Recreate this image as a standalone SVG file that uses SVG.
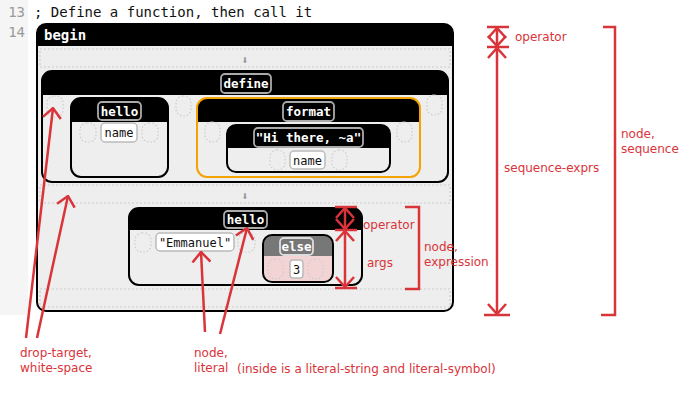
<svg xmlns="http://www.w3.org/2000/svg" width="700" height="400" viewBox="0 0 700 400">
<style>
.mono{font-family:"DejaVu Sans Mono","Liberation Mono",monospace}
.hdr{font-family:"DejaVu Sans Mono","Liberation Mono",monospace;font-weight:bold;fill:#fff;font-size:12.5px;text-anchor:middle}
.val{font-family:"DejaVu Sans Mono","Liberation Mono",monospace;fill:#111;font-size:12px;text-anchor:middle}
.out{fill:none;stroke:#000;stroke-width:2}
.body{fill:#eee}
.lbl{fill:#000;stroke:#aaa;stroke-width:1.8}
.vbox{fill:#fff;stroke:#bbb;stroke-width:1.5}
.drop{fill:none;stroke:#ccc;stroke-width:1.2;stroke-dasharray:1.5 2}
.dropr{fill:none;stroke:#ccc;stroke-width:1.2;stroke-dasharray:2 2}
.ann{font-family:"DejaVu Sans","Liberation Sans",sans-serif;font-size:12px;fill:#d9343a}
.red{fill:none;stroke:#d9343a;stroke-width:2.5}
.arr{fill:none;stroke:#d9343a;stroke-width:2.5;marker-end:url(#v)}
.arr2{fill:none;stroke:#d9343a;stroke-width:2.5;marker-end:url(#v);marker-start:url(#v)}
.down{font-family:"DejaVu Sans",sans-serif;font-size:8px;fill:#999;text-anchor:middle}
</style>
<defs>
<marker id="v" viewBox="0 0 12 20" refX="11" refY="10" markerWidth="12" markerHeight="20" markerUnits="userSpaceOnUse" orient="auto-start-reverse">
<path d="M1,1 L11,10 L1,19" fill="none" stroke="#d9343a" stroke-width="2.5"/>
</marker>
</defs>
<rect x="0" y="0" width="700" height="400" fill="#fff"/>
<g id="editor">
<rect x="0" y="0" width="28" height="315" fill="#f5f5f5"/>
<text class="mono" x="25" y="17" font-size="14" fill="#999" text-anchor="end">13</text>
<text class="mono" x="25" y="37" font-size="14" fill="#999" text-anchor="end">14</text>
<text class="mono" x="34" y="17" font-size="14" fill="#111">; Define a function, then call it</text>
</g>
<g id="node-begin">
<rect x="37" y="24" width="416" height="287" rx="9" fill="#000"/>
<path class="body" d="M37,46 H453 V302 Q453,311 444,311 H46 Q37,311 37,302 Z"/>
<rect class="out" x="37" y="24" width="416" height="287" rx="9"/>
<text class="mono" x="44" y="40" font-size="14" font-weight="bold" fill="#fff">begin</text>
<rect class="dropr" x="40" y="49" width="410" height="18"/>
<text class="down" x="245" y="63">⬇</text>
<rect class="dropr" x="40" y="185" width="410" height="18"/>
<text class="down" x="245" y="199">⬇</text>
<rect class="dropr" x="40" y="289" width="410" height="18"/>
</g>
<g id="node-define">
<rect x="42" y="71" width="406" height="111" rx="10" fill="#000"/>
<path class="body" d="M42,95 H448 V172 Q448,182 438,182 H52 Q42,182 42,172 Z"/>
<rect class="out" x="42" y="71" width="406" height="111" rx="10"/>
<rect class="lbl" x="221" y="74" width="50" height="19" rx="4"/>
<text class="hdr" x="246" y="88">define</text>
<rect class="drop" x="47" y="96" width="16" height="21" rx="7"/>
<rect class="drop" x="176" y="96" width="15" height="20" rx="7"/>
<rect class="drop" x="427" y="95" width="15" height="20" rx="7"/>
</g>
<g id="node-hello-def">
<rect x="71" y="98" width="97" height="79" rx="10" fill="#000"/>
<path class="body" d="M71,122 H168 V167 Q168,177 158,177 H81 Q71,177 71,167 Z"/>
<rect class="out" x="71" y="98" width="97" height="79" rx="10"/>
<rect class="lbl" x="98" y="102" width="43" height="18" rx="4"/>
<text class="hdr" x="119.5" y="115.5">hello</text>
<rect class="drop" x="80" y="123" width="16" height="19" rx="7"/>
<rect class="vbox" x="101" y="123" width="36" height="19" rx="4"/>
<text class="val" x="119" y="137">name</text>
<rect class="drop" x="142" y="123" width="16" height="19" rx="7"/>
</g>
<g id="node-format">
<rect x="197" y="98" width="223" height="79" rx="10" fill="#000"/>
<path class="body" d="M197,122 H420 V167 Q420,177 410,177 H207 Q197,177 197,167 Z"/>
<rect x="197" y="98" width="223" height="79" rx="10" fill="none" stroke="#f5a300" stroke-width="2"/>
<rect class="lbl" x="283" y="102" width="51" height="19" rx="4"/>
<text class="hdr" x="308.5" y="116">format</text>
<rect class="drop" x="205" y="122" width="15" height="20" rx="7"/>
<rect class="drop" x="397" y="122" width="15" height="20" rx="7"/>
</g>
<g id="node-string">
<rect x="227" y="125" width="163" height="47" rx="9" fill="#000"/>
<path class="body" d="M227,148 H390 V163 Q390,172 381,172 H236 Q227,172 227,163 Z"/>
<rect class="out" x="227" y="125" width="163" height="47" rx="9"/>
<rect class="lbl" x="254" y="128" width="109" height="19" rx="4"/>
<text class="hdr" x="308.5" y="142">"Hi there, ~a"</text>
<rect class="drop" x="270" y="150" width="15" height="20" rx="7"/>
<rect class="vbox" x="290" y="151" width="35" height="18" rx="4"/>
<text class="val" x="307.5" y="164.5">name</text>
<rect class="drop" x="332" y="150" width="15" height="20" rx="7"/>
</g>
<g id="node-hello-call">
<rect x="129" y="208" width="233" height="77" rx="10" fill="#000"/>
<path class="body" d="M129,230 H362 V275 Q362,285 352,285 H139 Q129,285 129,275 Z"/>
<rect class="out" x="129" y="208" width="233" height="77" rx="10"/>
<rect class="lbl" x="224" y="211" width="43" height="17" rx="4"/>
<text class="hdr" x="245.5" y="224">hello</text>
<rect class="drop" x="135" y="233" width="16" height="19" rx="7"/>
<rect class="vbox" x="156" y="233" width="78" height="18" rx="4"/>
<text class="val" x="195" y="247">"Emmanuel"</text>
<rect class="drop" x="238" y="233" width="17" height="19" rx="7"/>
</g>
<g id="node-else">
<rect x="263" y="235" width="70" height="47" rx="9" fill="#777"/>
<path d="M263,256 H333 V273 Q333,282 324,282 H272 Q263,282 263,273 Z" fill="#f2d4d4"/>
<rect class="out" x="263" y="235" width="70" height="47" rx="9"/>
<rect x="280" y="238" width="33" height="17" rx="4" fill="#777" stroke="#ddd" stroke-width="1.8"/>
<text class="hdr" x="296.5" y="251">else</text>
<rect class="drop" x="268" y="259" width="15" height="20" rx="7"/>
<rect class="vbox" x="290" y="260" width="13" height="18" rx="3"/>
<text class="val" x="296.5" y="274">3</text>
<rect class="drop" x="308" y="259" width="15" height="20" rx="7"/>
</g>
<g id="connectors">
<line class="red" x1="487" y1="27" x2="509" y2="27"/>
<line class="red" x1="487" y1="47" x2="509" y2="47"/>
<line class="red" x1="484" y1="315" x2="510" y2="315"/>
<line class="arr2" x1="497" y1="28" x2="497" y2="46"/>
<line class="arr2" x1="497" y1="48" x2="497" y2="314"/>
<path class="red" d="M603,27 H615 V315 H601"/>
<line class="red" x1="335" y1="207" x2="357" y2="207"/>
<line class="red" x1="335" y1="230" x2="357" y2="230"/>
<line class="red" x1="335" y1="288" x2="357" y2="288"/>
<line class="arr2" x1="345" y1="208" x2="345" y2="229"/>
<line class="arr2" x1="345" y1="231" x2="345" y2="287"/>
<path class="red" d="M405,207 H419 V289 H405"/>
<line class="arr" x1="26" y1="338" x2="53" y2="108"/>
<line class="arr" x1="37" y1="338" x2="68" y2="196"/>
<line class="arr" x1="205" y1="332" x2="201" y2="252"/>
<line class="arr" x1="220" y1="334" x2="247" y2="228"/>
</g>
<g id="annotations">
<text class="ann" x="515" y="41">operator</text>
<text class="ann" x="621" y="138">node,</text>
<text class="ann" x="621" y="153">sequence</text>
<text class="ann" x="504" y="172">sequence-exprs</text>
<text class="ann" x="363" y="229">operator</text>
<text class="ann" x="367" y="267">args</text>
<text class="ann" x="424" y="251">node,</text>
<text class="ann" x="424" y="266">expression</text>
<text class="ann" x="20" y="357">drop-target,</text>
<text class="ann" x="20" y="372">white-space</text>
<text class="ann" x="194" y="357">node,</text>
<text class="ann" x="194" y="372">literal</text>
<text class="ann" x="237" y="373">(inside is a literal-string and literal-symbol)</text>
</g>
</svg>
